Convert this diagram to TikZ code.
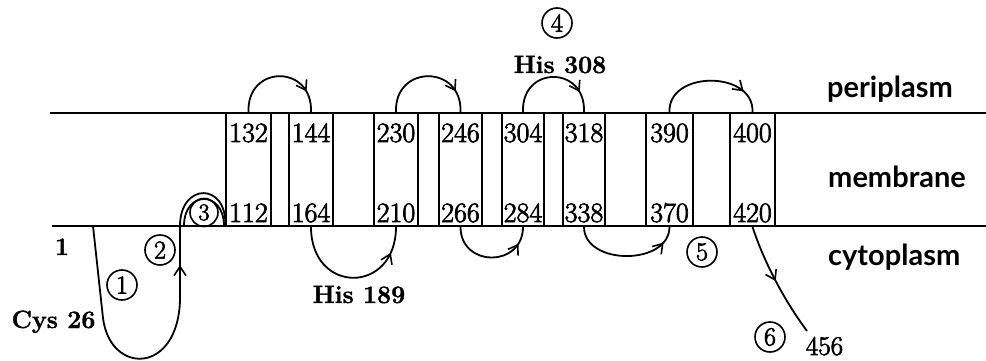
\documentclass[tikz,border=0pt]{standalone}
\usepackage{fontspec}
\newfontfamily\labfont{Lato}
\newfontfamily\numfont[FakeBold=2.5]{Latin Modern Roman}
\newfontfamily\boldfont[FakeBold=1.5]{Latin Modern Roman}
\usetikzlibrary{arrows.meta,decorations.markings}
\tikzset{
  membr/.style={line width=2pt},
  segbox/.style={draw, line width=1.6pt, minimum height=113pt, inner sep=0pt},
  chain/.style={line width=1.8pt},
  num/.style={font=\fontsize{28}{30}\numfont, inner sep=0pt, anchor=base},
  circnum/.style={circle, draw, line width=1.6pt, minimum size=30pt, inner sep=0pt, font=\fontsize{26}{27}\numfont},
  boldlab/.style={font=\fontsize{25}{27}\boldfont\bfseries, inner sep=0pt, anchor=base},
  region/.style={anchor=base west, inner sep=0pt, font=\fontsize{29}{31}\selectfont\labfont\bfseries},
  midarrow/.style={postaction={decorate}, decoration={markings, mark=at position #1 with {\arrow{Straight Barb[length=9pt,width=12pt,line width=1.6pt]}}}},
}
\begin{document}
\begin{tikzpicture}[x=1pt,y=-1pt]
\useasboundingbox (0,0) rectangle (986,361);
% membrane lines
\coordinate (ul) at (50,113); \coordinate (ur) at (986,113);
\coordinate (ll) at (52,226); \coordinate (lr) at (986,226);
\draw[membr] (ul) -- (ur);
\draw[membr] (ll) -- (lr);
% transmembrane segments
\node[segbox, minimum width=45pt] (bA) at (248.5,169.5) {};
\node[segbox, minimum width=44pt] (bB) at (311,169.5) {};
\node[segbox, minimum width=44pt] (bC) at (396,169.5) {};
\node[segbox, minimum width=43pt] (bD) at (460.5,169.5) {};
\node[segbox, minimum width=42pt] (bE) at (523,169.5) {};
\node[segbox, minimum width=42pt] (bF) at (584,169.5) {};
\node[segbox, minimum width=47pt] (bG) at (669.5,169.5) {};
\node[segbox, minimum width=45pt] (bH) at (752.5,169.5) {};
% numbers
\node[num] (nA1) at (248.5,142) {132}; \node[num] (nA2) at (248.5,222) {112};
\node[num] (nB1) at (311,142) {144};   \node[num] (nB2) at (311,222) {164};
\node[num] (nC1) at (396,142) {230};   \node[num] (nC2) at (396,222) {210};
\node[num] (nD1) at (460.5,142) {246}; \node[num] (nD2) at (460.5,222) {266};
\node[num] (nE1) at (523,142) {304};   \node[num] (nE2) at (523,222) {284};
\node[num] (nF1) at (584,142) {318};   \node[num] (nF2) at (584,222) {338};
\node[num] (nG1) at (669.5,142) {390}; \node[num] (nG2) at (669.5,222) {370};
\node[num] (nH1) at (752.5,142) {400}; \node[num] (nH2) at (752.5,222) {420};
% periplasmic loops
\draw[chain, midarrow=0.8] (bA.north) .. controls +(-2,-48) and +(2,-48) .. (bB.north);
\draw[chain, midarrow=0.8] (bC.north) .. controls +(-2,-48) and +(2,-48) .. (bD.north);
\draw[chain, midarrow=0.8] (bE.north) .. controls +(-2,-47) and +(2,-47) .. (bF.north);
\draw[chain, midarrow=0.8] (bG.north) .. controls +(-2,-42) and +(2,-42) .. (bH.north);
% cytoplasmic loops
\draw[chain, midarrow=0.82] (bB.south) .. controls +(0,68) and +(0,68) .. (bC.south);
\draw[chain, midarrow=0.82] (bD.south) .. controls +(0,41) and +(0,41) .. (bE.south);
\draw[chain, midarrow=0.85] (bF.south) .. controls +(0,39) and +(0,39) .. (bG.south);
% C-terminal tail
\coordinate (tailend) at (807,331);
\draw[chain, midarrow=0.5] (bH.south) .. controls (764,262) and (784,300) .. (tailend);
% N-terminal part
\coordinate (nstart) at (93,226);
\coordinate (ubot1) at (103,318);
\coordinate (ubot2) at (180,300);
\coordinate (uup) at (180,226);
\coordinate (inA) at (184,226);
\coordinate (inB) at (224,226);
\draw[chain] (nstart) -- (ubot1) .. controls (110,375) and (178,375) .. (ubot2);
\draw[chain, midarrow=0.47] (ubot2) -- (uup);
\draw[chain] (uup) .. controls (180,182) and (228,182) .. (bA.south west);
\draw[chain] (inA) .. controls (184,190) and (224,190) .. (inB);
% circled labels
\node[circnum] (c1) at (122,285) {1};
\node[circnum] (c2) at (160,250) {2};
\node[circnum, minimum size=28pt, font=\fontsize{24}{25}\numfont] (c3) at (204,212.5) {3};
\node[circnum] (c4) at (557,23) {4};
\node[circnum] (c5) at (702,252) {5};
\node[circnum] (c6) at (770,337) {6};
% text labels
\node[boldlab] (his308) at (560,73) {His 308};
\node[boldlab] (his189) at (359,303) {His 189};
\node[boldlab] (cys26) at (53.5,328) {Cys 26};
\node[boldlab] (one) at (62,255) {1};
\node[num, font=\fontsize{27}{28}\numfont] (n456) at (824.5,355) {456};
% region labels
\node[region] (peri) at (827,97) {periplasm};
\node[region] (memb) at (828,187) {membrane};
\node[region] (cyto) at (828,265) {cytoplasm};
\end{tikzpicture}
\end{document}
